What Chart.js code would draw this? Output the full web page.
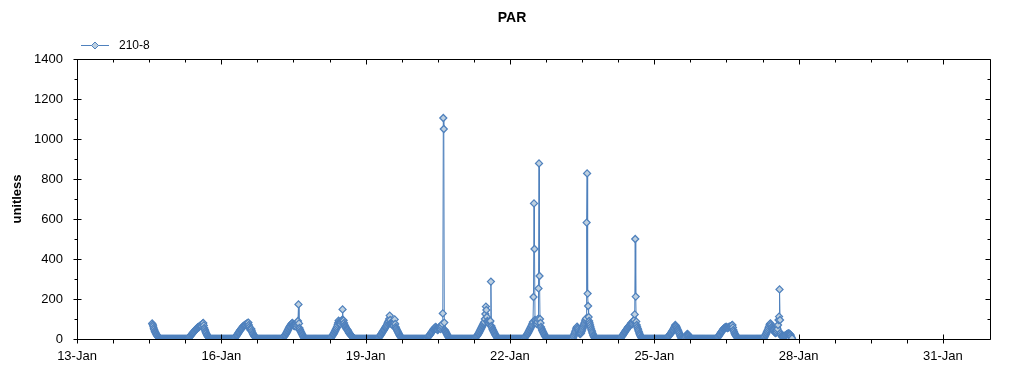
<!DOCTYPE html>
<html>
<head>
<meta charset="utf-8">
<script src="https://cdn.jsdelivr.net/npm/chart.js@4.4.1/dist/chart.umd.min.js"></script>
<style>
html,body{margin:0;padding:0;background:#fff;}
#wrap{width:1024px;height:375px;}
</style>
</head>
<body>
<div id="wrap"><canvas id="c" width="1024" height="375"></canvas></div>
<script>
// ---------- texts ----------
const chartTitle = 'PAR';
const seriesName = '210-8';
const yAxisTitle = 'unitless';
const xTickLabels = ['13-Jan', '16-Jan', '19-Jan', '22-Jan', '25-Jan', '28-Jan', '31-Jan'];
const yTickLabels = ['0', '200', '400', '600', '800', '1000', '1200', '1400'];

// ---------- time base: x = hours since 13-Jan 00:00, one reading every 15 minutes ----------
const firstDay = 13;
const axisDays = 19;
const slotHours = 0.25;
const dayNumbers   = [14, 15, 16, 17, 18, 19, 20, 21, 22, 23, 24, 25, 26, 27];
const dayStartSlot = [54, 0, 0, 0, 0, 0, 0, 0, 0, 0, 0, 0, 0, 0]; // record starts 14-Jan 13:30

const jan14 = [78,72,65,55,48,40,35,30,25,20,16,12,10,7,5,3,2,1,
  0,0,0,0,0,0,0,0,0,0, 0,0,0,0,0,0,0,0,0,0, 0,0,0,0];
const jan15 = [
  0,0,0,0,0,0,0,0,0,0, 0,0,0,0,0,0,0,0,0,0, 0,0,0,0,0,0,0,0,0,
  1,3,5,8,11,14,17,20,24,26, 30,32,36,38,42,44,48,50,52,55, 58,60,58,62,65,66,68,70,65,74,
  78,80,68,55,48,40,34,28,22,18, 14,10,7,4,2,
  0,0,0,0,0,0,0,0,0,0, 0,0,0,0,0,0,0,0,0,0, 0,0];
const jan16 = [
  0,0,0,0,0,0,0,0,0,0, 0,0,0,0,0,0,0,0,0,0, 0,0,0,0,0,0,
  2,5,8,12,15,18,22,26,30,34, 38,42,45,48,52,55,58,62,64,66, 68,70,72,70,75,77,78,80,82,70,
  60,52,45,48,50,40,32,26,22,18, 14,11,8,5,3,1,
  0,0,0,0,0,0,0,0,0,0, 0,0,0,0,0,0,0,0,0,0, 0,0,0,0];
const jan17 = [
  0,0,0,0,0,0,0,0,0,0, 0,0,0,0,0,0,0,0,0,0, 0,0,0,0,0,0,
  3,5,8,12,15,18,22,26,30,35, 40,45,50,55,60,64,68,72,75,78, 80,74,70,66,65,70,75,68,60,70,
  78,90,173,78,55,48,40,35,30,25, 20,15,10,6,3,1,
  0,0,0,0,0,0,0,0,0,0, 0,0,0,0,0,0,0,0,0,0, 0,0,0,0];
const jan18 = [
  0,0,0,0,0,0,0,0,0,0, 0,0,0,0,0,0,0,0,0,0, 0,0,0,0,0,0,
  3,6,10,14,18,22,25,30,35,40, 45,50,55,62,70,80,92,85,80,78, 75,85,92,95,148,95,92,80,70,65,
  60,55,50,48,45,40,35,30,28,24, 20,18,15,12,10,7,5,3,2,1,
  0,0,0,0,0,0,0,0,0,0, 0,0,0,0,0,0,0,0,0,0];
const jan19 = [
  0,0,0,0,0,0,0,0,0,0, 0,0,0,0,0,0,0,0,0,0, 0,0,0,0,
  2,4,6,9,12,16,20,24,28,32, 36,40,44,48,52,56,60,64,68,74, 80,85,90,100,117,95,80,78,75,72,
  70,68,65,80,98,75,60,54,48,42, 38,32,28,22,18,14,10,7,4,2,
  0,0,0,0,0,0,0,0,0,0, 0,0,0,0,0,0,0,0,0,0, 0,0];
const jan20 = [
  0,0,0,0,0,0,0,0,0,0, 0,0,0,0,0,0,0,0,0,0, 0,0,0,0,0,0,
  3,5,8,11,14,17,20,24,28,32, 35,38,42,46,50,52,55,58,60,55, 50,48,45,50,55,58,60,55,50,58,
  65,75,128,1105,1050,82,45,40,35,30, 25,20,15,11,8,5,3,1,
  0,0,0,0,0,0,0,0,0,0, 0,0,0,0,0,0,0,0,0,0, 0,0];
const jan21 = [
  0,0,0,0,0,0,0,0,0,0, 0,0,0,0,0,0,0,0,0,0, 0,0,0,0,0,0,
  3,5,8,12,15,18,22,26,30,35, 40,45,50,55,60,65,70,75,80,85, 100,125,162,145,110,90,85,80,78,84,
  87,90,287,65,58,50,45,40,35,30, 25,20,16,12,8,5,3,1,
  0,0,0,0,0,0,0,0,0,0, 0,0,0,0,0,0,0,0,0,0, 0,0];
const jan22 = [
  0,0,0,0,0,0,0,0,0,0, 0,0,0,0,0,0,0,0,0,0, 0,0,0,0,0,0,0,0,
  3,5,8,12,15,18,22,26,30,35, 40,45,50,55,60,65,70,78,85,210, 678,450,95,88,80,78,75,85,100,253,
  878,315,100,80,60,52,45,40,35,30, 25,20,15,11,8,5,3,1,
  0,0,0,0,0,0,0,0,0,0, 0,0,0,0,0,0,0,0,0,0];
const jan23 = [
  0,0,0,0,0,0,0,0,0,0, 0,0,0,0,0,0,0,0,0,0, 0,0,0,0,0,0,0,0,0,0,
  5,12,20,28,35,42,50,56,62,56, 50,42,35,30,25,28,30,38,45,52, 60,68,75,82,90,96,103,582,828,227,
  165,110,90,80,70,60,50,42,35,28, 20,15,10,6,3,1,
  0,0,0,0,0,0,0,0,0,0, 0,0,0,0,0,0,0,0,0,0];
const jan24 = [
  0,0,0,0,0,0,0,0,0,0, 0,0,0,0,0,0,0,0,0,0, 0,0,0,0,0,0,0,0,
  3,5,8,12,15,18,22,26,30,34, 38,42,45,48,52,56,60,62,65,68, 70,75,80,78,75,82,90,92,95,123,
  500,212,87,70,60,52,45,38,30,24, 18,12,8,5,3,1,
  0,0,0,0,0,0,0,0,0,0, 0,0,0,0,0,0,0,0,0,0, 0,0];
const jan25 = [
  0,0,0,0,0,0,0,0,0,0, 0,0,0,0,0,0,0,0,0,0, 0,0,0,0,
  2,4,6,9,12,15,18,22,25,28, 32,36,40,44,48,53,58,64,70,66, 62,56,50,45,40,34,28,22,15,10,
  5,2,0,0,0,0,0,0,5,10, 15,20,25,22,20,15,10,6,3,1,
  0,0,0,0,0,0,0,0,0,0, 0,0,0,0,0,0,0,0,0,0, 0,0];
const jan26 = [
  0,0,0,0,0,0,0,0,0,0, 0,0,0,0,0,0,0,0,0,0, 0,0,0,0,0,0,0,0,
  2,4,6,9,12,16,20,24,28,32, 35,38,42,46,50,52,55,57,58,60, 60,57,55,56,58,60,62,61,60,62,
  65,68,70,58,45,38,30,25,20,16, 12,9,6,4,2,1,
  0,0,0,0,0,0,0,0,0,0, 0,0,0,0,0,0,0,0,0,0, 0,0];
const jan27 = [
  0,0,0,0,0,0,0,0,0,0, 0,0,0,0,0,0,0,0,0,0, 0,0,0,0,0,0,
  3,6,10,15,20,25,30,36,42,48, 55,62,70,75,78,70,60,55,50,48, 45,40,35,32,30,32,35,42,50,70,
  95,112,248,95,30,22,15,12,10,11, 12,14,15,16,18,20,22,24,25,27, 28,27,25,22,20,14,8,3];
const dailyValues = [jan14, jan15, jan16, jan17, jan18, jan19, jan20, jan21, jan22, jan23, jan24, jan25, jan26, jan27];

// ---------- build the series ----------
const points = [];
dayNumbers.forEach((d, k) => {
  dailyValues[k].forEach((v, i) => {
    points.push({ x: (d - firstDay) * 24 + (dayStartSlot[k] + i) * slotHours, y: v });
  });
});

// ---------- styling ----------
const lineColor = 'rgb(79,129,189)';
const markerFill = 'rgb(190,208,224)';
const xMinorStep = 18, xMajorStep = 72;   // hours
const yMinorStep = 100, yMajorStep = 200;

Chart.defaults.font.family = "'Liberation Sans', Arial, sans-serif";
Chart.defaults.font.size = 13;
Chart.defaults.color = '#000';

// legend icon: line with a diamond marker
const icon = document.createElement('canvas');
icon.width = 28; icon.height = 9;
(function () {
  const g = icon.getContext('2d');
  g.strokeStyle = lineColor; g.lineWidth = 1;
  g.beginPath(); g.moveTo(0, 4.5); g.lineTo(28, 4.5); g.stroke();
  g.beginPath();
  g.moveTo(10.5, 4.5); g.lineTo(14, 1); g.lineTo(17.5, 4.5); g.lineTo(14, 8); g.closePath();
  g.fillStyle = markerFill; g.fill(); g.stroke();
})();

const legendShift = {
  id: 'legendShift',
  afterLayout(chart) {
    const lg = chart.legend;
    lg.left += 63; lg.right += 63;
    lg.top += 2.5; lg.bottom += 2.5;
  }
};

const frameTicks = {
  id: 'frameTicks',
  afterDatasetsDraw(chart) {
    const { ctx, chartArea: a, scales } = chart;
    const xs = scales.x, ys = scales.y;
    const L = Math.round(a.left) + 0.5, R = Math.round(a.right) - 0.5;
    const T = Math.round(a.top) + 0.5, B = Math.round(a.bottom) + 0.5;
    ctx.save();
    ctx.strokeStyle = '#000';
    ctx.lineWidth = 1;
    ctx.beginPath();
    ctx.rect(L, T, R - L, B - T);
    xs.ticks.forEach(t => {
      if (t.value % xMinorStep !== 0) return;
      const major = t.value % xMajorStep === 0;
      const px = Math.round(xs.getPixelForValue(t.value)) + 0.5;
      ctx.moveTo(px, B + 4); ctx.lineTo(px, major ? B - 5 : B);
      ctx.moveTo(px, T); ctx.lineTo(px, T + (major ? 5 : 3));
    });
    ys.ticks.forEach(t => {
      if (t.value % yMinorStep !== 0) return;
      const major = t.value % yMajorStep === 0;
      const py = Math.round(ys.getPixelForValue(t.value)) + 0.5;
      ctx.moveTo(major ? L - 4 : L - 3, py); ctx.lineTo(major ? L + 4 : L, py);
      ctx.moveTo(R, py); ctx.lineTo(R - (major ? 5 : 3), py);
    });
    ctx.stroke();
    ctx.restore();
  }
};

new Chart(document.getElementById('c'), {
  type: 'line',
  data: {
    datasets: [{
      label: seriesName,
      data: points,
      borderColor: lineColor,
      borderWidth: 1,
      backgroundColor: markerFill,
      pointStyle: 'rectRot',
      pointRadius: 3.5,
      pointBorderWidth: 1.25,
      pointBorderColor: lineColor,
      pointBackgroundColor: markerFill,
      tension: 0,
      fill: false
    }]
  },
  options: {
    responsive: false,
    devicePixelRatio: 1,
    animation: false,
    events: [],
    layout: { padding: { left: 10, right: 10, top: 0, bottom: 0 } },
    plugins: {
      title: {
        display: true,
        text: chartTitle,
        color: '#000',
        font: { size: 14, weight: 'bold' },
        padding: { top: 10, bottom: 6.2 }
      },
      legend: {
        display: true,
        position: 'top',
        align: 'start',
        labels: {
          usePointStyle: true,
          pointStyleWidth: 36,
          boxHeight: 12,
          padding: 4,
          color: '#000',
          font: { size: 12 },
          generateLabels: () => [{
            text: seriesName,
            pointStyle: icon,
            fillStyle: markerFill,
            strokeStyle: lineColor,
            lineWidth: 0,
            hidden: false,
            datasetIndex: 0
          }]
        }
      },
      tooltip: { enabled: false }
    },
    scales: {
      x: {
        type: 'linear',
        min: 0,
        max: axisDays * 24,
        grid: { display: false, drawTicks: false },
        border: { display: false },
        ticks: {
          stepSize: xMinorStep,
          autoSkip: false,
          maxRotation: 0,
          minRotation: 0,
          padding: 10,
          font: { size: 13 },
          callback: v => (v % xMajorStep === 0 ? xTickLabels[v / xMajorStep] : '')
        },
        afterFit: s => { s.height = 36; }
      },
      y: {
        type: 'linear',
        position: 'left',
        min: 0,
        max: 1400,
        grid: { display: false, drawTicks: false },
        border: { display: false },
        title: {
          display: true,
          text: yAxisTitle,
          color: '#000',
          font: { size: 13, weight: 'bold' },
          padding: { top: 0, bottom: 0 }
        },
        ticks: {
          stepSize: yMinorStep,
          autoSkip: false,
          padding: 14,
          font: { size: 13 },
          callback: v => (v % yMajorStep === 0 ? yTickLabels[v / yMajorStep] : '')
        },
        afterFit: s => { s.width = 67; }
      },
      yRight: {
        type: 'linear',
        position: 'right',
        min: 0,
        max: 1400,
        grid: { display: false, drawTicks: false },
        border: { display: false },
        ticks: { display: false },
        afterFit: s => { s.width = 23; }
      }
    }
  },
  plugins: [legendShift, frameTicks]
});
</script>
</body>
</html>
